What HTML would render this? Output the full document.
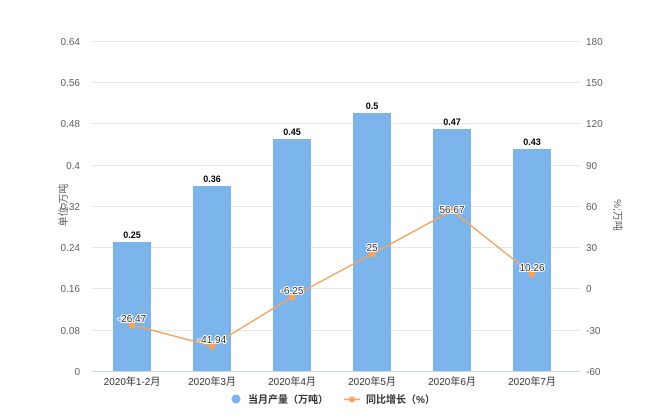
<!DOCTYPE html><html><head><meta charset="utf-8"><style>body{margin:0;background:#fff}svg{display:block;font-family:"Liberation Sans","Noto Sans CJK SC",sans-serif}</style></head><body>
<svg width="650" height="420" viewBox="0 0 650 420">
<g stroke="#e6e6e6" stroke-width="1">
<line x1="92" x2="580" y1="41.5" y2="41.5"/><line x1="92" x2="580" y1="82.5" y2="82.5"/><line x1="92" x2="580" y1="123.5" y2="123.5"/><line x1="92" x2="580" y1="165.5" y2="165.5"/><line x1="92" x2="580" y1="206.5" y2="206.5"/><line x1="92" x2="580" y1="247.5" y2="247.5"/><line x1="92" x2="580" y1="288.5" y2="288.5"/><line x1="92" x2="580" y1="330.5" y2="330.5"/>
</g>
<line x1="92" x2="580" y1="371.5" y2="371.5" stroke="#ccd6eb"/>
<g fill="#606060" font-size="10" text-anchor="end">
<text x="80" y="45">0.64</text><text x="80" y="86">0.56</text><text x="80" y="127">0.48</text><text x="80" y="169">0.4</text><text x="80" y="210">0.32</text><text x="80" y="251">0.24</text><text x="80" y="292">0.16</text><text x="80" y="334">0.08</text><text x="80" y="375">0</text>
</g>
<g fill="#606060" font-size="10">
<text x="586" y="45">180</text><text x="586" y="86">150</text><text x="586" y="127">120</text><text x="586" y="169">90</text><text x="586" y="210">60</text><text x="586" y="251">30</text><text x="586" y="292">0</text><text x="586" y="334">-30</text><text x="586" y="375">-60</text>
</g>
<text transform="translate(67,205) rotate(-90)" font-size="10" fill="#606060" text-anchor="middle">单位:万吨</text>
<text transform="translate(614,215) rotate(90)" font-size="10" fill="#606060" text-anchor="middle">%;万吨</text>
<g fill="#7cb5ec">
<rect x="113" y="242" width="38" height="129"/><rect x="193" y="186" width="38" height="185"/><rect x="273" y="139" width="38" height="232"/><rect x="353" y="113" width="38" height="258"/><rect x="433" y="129" width="38" height="242"/><rect x="513" y="149" width="38" height="222"/>
</g>
<g font-size="9" font-weight="bold" fill="#000" text-anchor="middle">
<text x="132" y="238">0.25</text><text x="212" y="182">0.36</text><text x="292" y="135">0.45</text><text x="372" y="109">0.5</text><text x="452" y="125">0.47</text><text x="532" y="145">0.43</text>
</g>
<polyline points="132,325 212,346 292,297 372,254 452,210.6 532,274" fill="none" stroke="#f7a35c" stroke-width="1.5"/>
<g fill="#f7a35c"><circle cx="132" cy="325" r="3.5"/><circle cx="212" cy="346" r="3.5"/><circle cx="292" cy="297" r="3.5"/><circle cx="372" cy="254" r="3.5"/><circle cx="452" cy="210.6" r="3.5"/><circle cx="532" cy="274" r="3.5"/></g>
<g font-size="10" fill="#333" text-anchor="middle" stroke="#fff" stroke-width="2" paint-order="stroke">
<text x="132" y="322">-26.47</text><text x="212" y="343">-41.94</text><text x="292" y="294">-6.25</text><text x="372" y="251">25</text><text x="452" y="213">56.67</text><text x="532" y="271">10.26</text>
</g>
<g font-size="10" fill="#333" text-anchor="middle">
<text x="132" y="385">2020年1-2月</text><text x="212" y="385">2020年3月</text><text x="292" y="385">2020年4月</text><text x="372" y="385">2020年5月</text><text x="452" y="385">2020年6月</text><text x="532" y="385">2020年7月</text>
</g>
<circle cx="236" cy="399" r="4.5" fill="#7cb5ec"/>
<text x="248" y="403" font-size="10" font-weight="bold" fill="#333">当月产量（万吨）</text>
<line x1="344" x2="360" y1="399.5" y2="399.5" stroke="#f7a35c" stroke-width="1.5"/><circle cx="352" cy="399.5" r="3" fill="#f7a35c"/>
<text x="366" y="403" font-size="10" font-weight="bold" fill="#333">同比增长（%）</text>
</svg></body></html>
